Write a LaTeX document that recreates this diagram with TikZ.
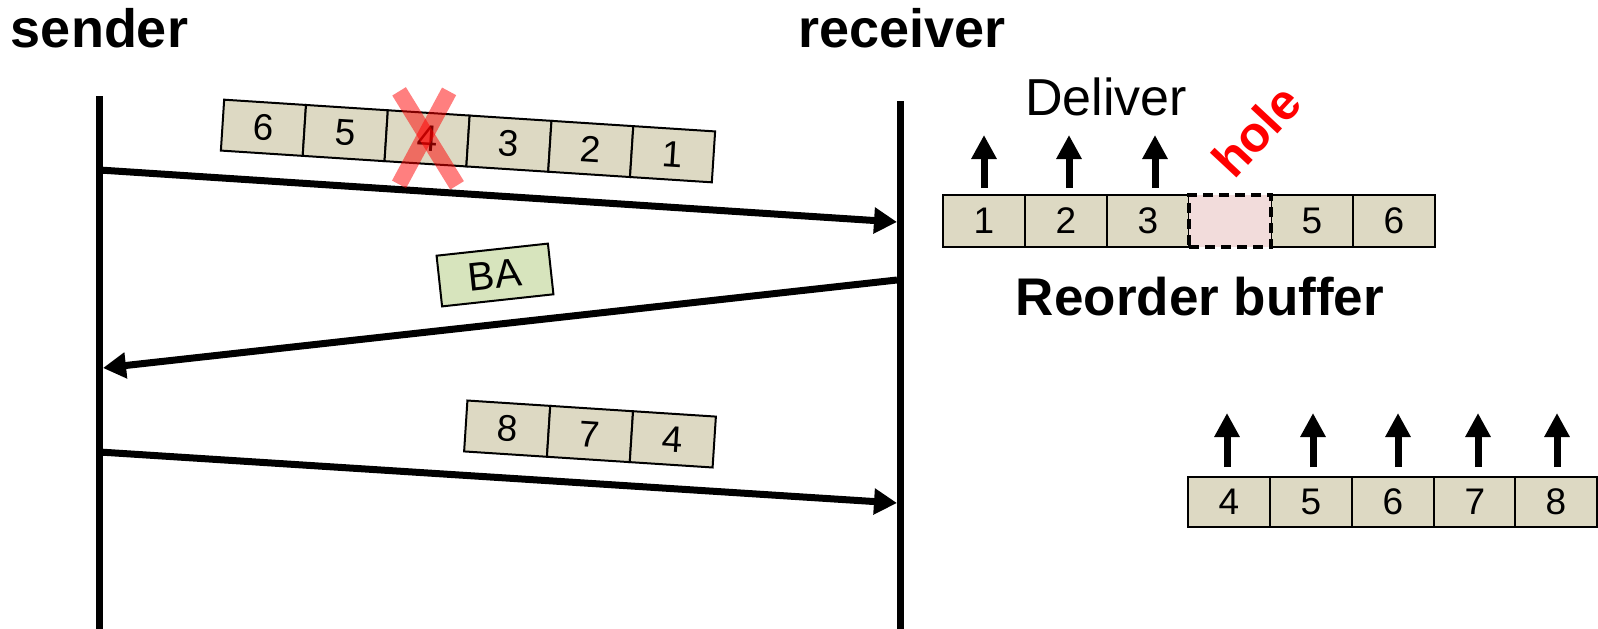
\documentclass[tikz,border=0pt]{standalone}
\usepackage{fontspec}
\setmainfont{Liberation Sans}
\usetikzlibrary{arrows.meta}

\definecolor{cellfill}{RGB}{221,217,195}
\definecolor{holefill}{RGB}{242,220,219}
\definecolor{bafill}{RGB}{215,228,189}

\tikzset{
  lifeline/.style={line width=7pt},
  msg/.style={line width=7pt,-{Triangle[length=23pt,width=25pt]}},
  uparrow/.style={line width=7pt,-{Triangle[length=24pt,width=24pt]}},
  cell/.style={draw,line width=2pt,fill=cellfill,minimum width=82pt,
    minimum height=51pt,inner sep=0pt,outer sep=0pt,
    font=\fontsize{37}{40}\selectfont},
  holecell/.style={cell,fill=holefill,line width=4.5pt,
    dash pattern=on 10pt off 6pt},
  title/.style={font=\fontsize{54}{60}\selectfont\bfseries,anchor=base},
  crossout/.style={line width=16pt,red,opacity=0.5}
}

\begin{document}
\begin{tikzpicture}[x=1pt,y=1pt]
\useasboundingbox (0,0) rectangle (1598,-629);

% lifelines
\node[title] (snd) at (99.5,-47) {sender};
\node[title] (rcv) at (902,-47) {receiver};
\coordinate (sTop) at (99.5,-96);
\coordinate (sBot) at (99.5,-629);
\coordinate (rTop) at (900.5,-101);
\coordinate (rBot) at (900.5,-629);
\draw[lifeline] (sTop) -- (sBot);
\draw[lifeline] (rTop) -- (rBot);

% message end points
\coordinate (m1a) at (99.5,-170);
\coordinate (m1b) at (897,-222);
\coordinate (m2a) at (897,-280);
\coordinate (m2b) at (103,-368);
\coordinate (m3a) at (99.5,-452);
\coordinate (m3b) at (897,-503);

\draw[msg] (m1a) -- (m1b);
\draw[msg] (m2a) -- (m2b);
\draw[msg] (m3a) -- (m3b);

% first burst: 6 5 4 3 2 1
\begin{scope}[shift={(468,-141)},rotate=-3.7,transform shape]
  \node[cell] (p6) at (-205,0) {6};
  \node[cell] (p5) at (-123,0) {5};
  \node[cell] (p4) at (-41,0) {4};
  \node[cell] (p3) at (41,0) {3};
  \node[cell] (p2) at (123,0) {2};
  \node[cell] (p1) at (205,0) {1};
\end{scope}
% frame 4 is lost
\draw[crossout] ([shift={(-28,47)}]p4.center) -- ([shift={(30,-47)}]p4.center);
\draw[crossout] ([shift={(22,47)}]p4.center) -- ([shift={(-28,-46)}]p4.center);

% block ack
\node[draw,line width=2pt,fill=bafill,minimum width=112pt,minimum height=51pt,
  inner sep=0pt,rotate=6.2,font=\fontsize{40}{44}\selectfont] (ba) at (495,-275) {BA};

% retransmission: 8 7 4
\begin{scope}[shift={(590,-434)},rotate=-3.7,transform shape]
  \node[cell,minimum width=83pt] (q8) at (-83,0) {8};
  \node[cell,minimum width=83pt] (q7) at (0,0) {7};
  \node[cell,minimum width=83pt] (q4) at (83,0) {4};
\end{scope}

% reorder buffer with a hole
\node[cell,minimum height=52pt] (r1) at (984,-221) {1};
\node[cell,minimum height=52pt] (r2) at (1066,-221) {2};
\node[cell,minimum height=52pt] (r3) at (1148,-221) {3};
\node[cell,minimum height=52pt] (r5) at (1312,-221) {5};
\node[cell,minimum height=52pt] (r6) at (1394,-221) {6};
\node[holecell,minimum height=52pt] (r4) at (1230,-221) {};

\draw[uparrow] ([yshift=7pt]r1.north) -- ++(0,53);
\draw[uparrow] ([xshift=3pt,yshift=7pt]r2.north) -- ++(0,53);
\draw[uparrow] ([xshift=7pt,yshift=7pt]r3.north) -- ++(0,53);

\node[font=\fontsize{52}{60}\selectfont,anchor=base] (dlv) at (1106,-115) {Deliver};
\node[font=\fontsize{50}{54}\selectfont\bfseries,text=red,rotate=47,inner sep=0pt] (hole) at (1256,-131) {hole};
\node[title,font=\fontsize{53}{60}\selectfont\bfseries] (rob) at (1200,-315) {Reorder buffer};

% buffer after the retransmission
\node[cell,minimum height=50pt] (b4) at (1229,-502) {4};
\node[cell,minimum height=50pt] (b5) at (1311,-502) {5};
\node[cell,minimum height=50pt] (b6) at (1393,-502) {6};
\node[cell,minimum height=50pt] (b7) at (1475,-502) {7};
\node[cell,minimum height=50pt] (b8) at (1556,-502) {8};

\draw[uparrow] ([xshift=-2pt,yshift=10pt]b4.north) -- ++(0,54);
\draw[uparrow] ([xshift=2pt,yshift=10pt]b5.north) -- ++(0,54);
\draw[uparrow] ([xshift=5pt,yshift=10pt]b6.north) -- ++(0,54);
\draw[uparrow] ([xshift=3pt,yshift=10pt]b7.north) -- ++(0,54);
\draw[uparrow] ([xshift=1pt,yshift=10pt]b8.north) -- ++(0,54);
\end{tikzpicture}
\end{document}
